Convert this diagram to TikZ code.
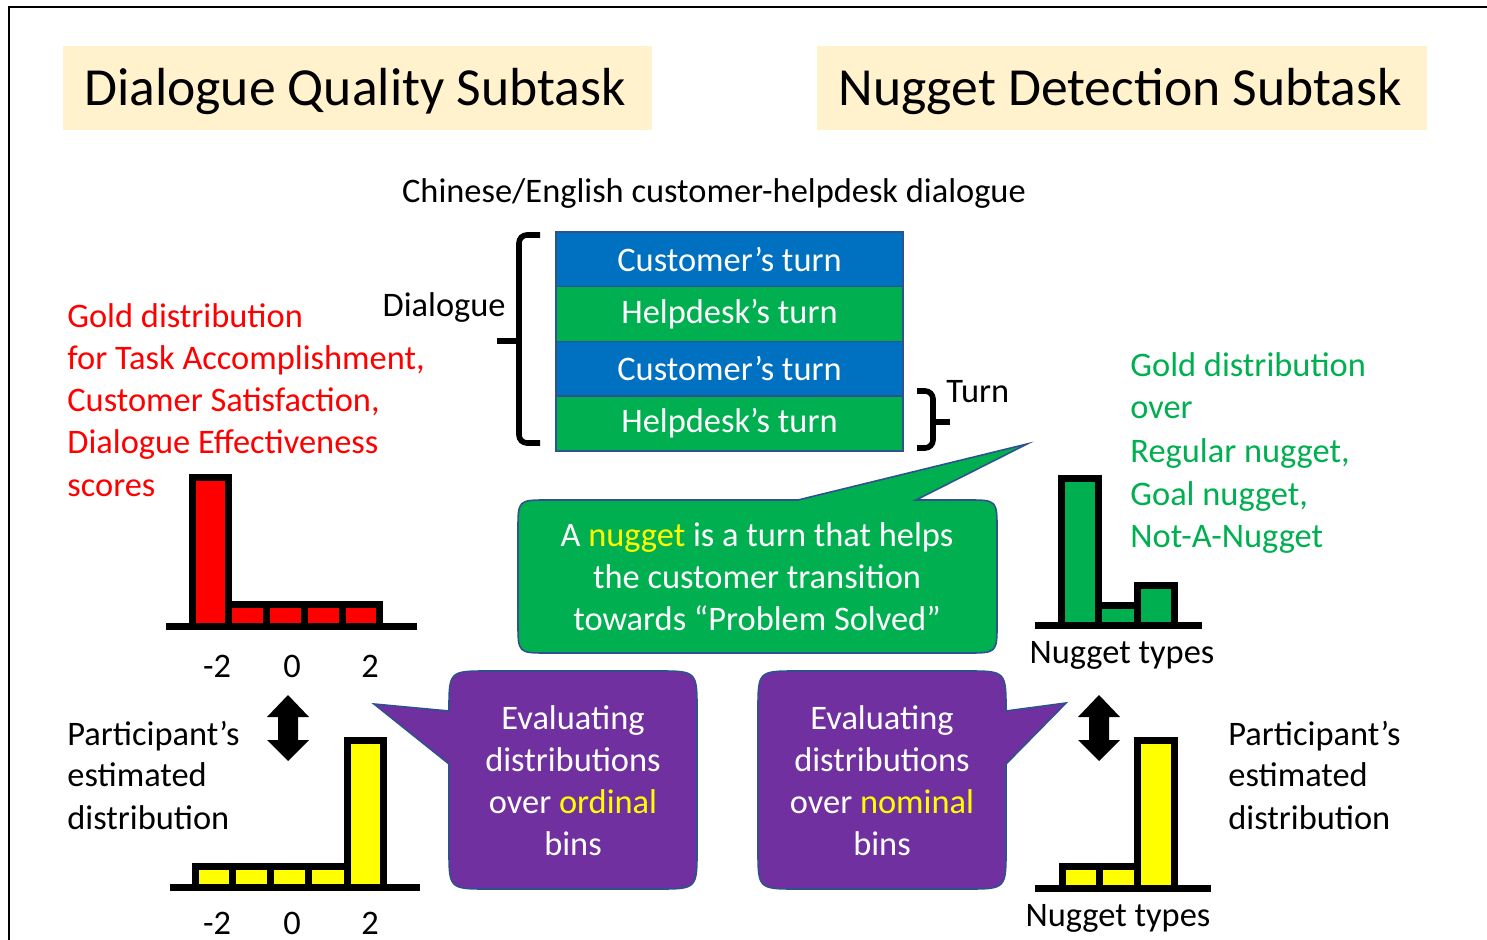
\documentclass[tikz,border=0pt]{standalone}
\usepackage{fontspec}
\setmainfont{Carlito}
\definecolor{cream}{HTML}{FFF2CC}
\definecolor{tblue}{HTML}{0070C0}
\definecolor{tgreen}{HTML}{00B050}
\definecolor{tpurple}{HTML}{7030A0}
\definecolor{edge}{HTML}{2F528F}
\definecolor{tyellow}{HTML}{FFFF00}
\definecolor{tred}{HTML}{FF0000}
\begin{document}
\begin{tikzpicture}[x=0.5pt,y=-0.5pt,
  body/.style={font=\fontsize{17.2}{21}\selectfont, inner sep=0pt},
  titletext/.style={font=\fontsize{26.8}{32}\selectfont, inner sep=0pt},
  titlefill/.style={fill=cream},
  turnbox/.style={draw=edge, line width=0.8pt, minimum width=173.5pt, minimum height=27.4pt, text=white, font=\fontsize{17.2}{21}\selectfont, inner sep=0pt},
  brace/.style={line width=2.8pt, rounded corners=4pt},
  bar/.style={draw=black, line width=3.5pt},
  axisline/.style={line width=3.5pt},
  callout/.style={draw=edge, line width=0.8pt},
  calltext/.style={font=\fontsize{17.2}{21}\selectfont, text=white, align=center, inner sep=0pt},
]
\useasboundingbox (0,0) rectangle (1487,940);
\fill[white] (0,0) rectangle (1487,940);
% frame
\draw[line width=1pt] (9,940) -- (9,7.5) -- (1487,7.5);

% titles
\fill[titlefill] (63,46) rectangle (652,130);
\fill[titlefill] (817,46) rectangle (1427,130);
\node[titletext, anchor=base] (t1) at (355,106) {Dialogue Quality Subtask};
\node[titletext, anchor=base] (t2) at (1120,106) {Nugget Detection Subtask};

\node[body, anchor=base] (cap) at (714,203) {Chinese/English customer-helpdesk dialogue};

% turns
\node[turnbox, fill=tblue]  (u1) at (729.5,259.4) {Customer’s turn};
\node[turnbox, fill=tgreen] (u2) at (729.5,314.1) {Helpdesk’s turn};
\node[turnbox, fill=tblue]  (u3) at (729.5,368.9) {Customer’s turn};
\node[turnbox, fill=tgreen] (u4) at (729.5,423.6) {Helpdesk’s turn};

% braces
\draw[brace] (540,235) -- (519,235) -- (519,443) -- (540,443);
\draw[line width=3pt] (519,341) -- (497,341);
\node[body, anchor=east] (dlg) at (506,308) {Dialogue};
\draw[brace] (917,391) -- (933,391) -- (933,448) -- (917,448);
\draw[line width=3pt] (933,422) -- (950,422);
\node[body, anchor=west] (turn) at (946,392) {Turn};

% red text
\node[body, text=tred, anchor=base west] (r1) at (67,328) {Gold distribution};
\node[body, text=tred, anchor=base west] (r2) at (67,370) {for Task Accomplishment,};
\node[body, text=tred, anchor=base west] (r3) at (67,412) {Customer Satisfaction,};
\node[body, text=tred, anchor=base west] (r4) at (67,454) {Dialogue Effectiveness};
\node[body, text=tred, anchor=base west] (r5) at (67,496) {scores};

% green text
\node[body, text=tgreen, anchor=base west] (g1) at (1130,377) {Gold distribution};
\node[body, text=tgreen, anchor=base west] (g2) at (1130,419) {over};
\node[body, text=tgreen, anchor=base west] (g3) at (1130,463) {Regular nugget,};
\node[body, text=tgreen, anchor=base west] (g4) at (1130,505) {Goal nugget,};
\node[body, text=tgreen, anchor=base west] (g5) at (1130,547) {Not-A-Nugget};

% participant text
\node[body, anchor=base west] (p1) at (67,745) {Participant’s};
\node[body, anchor=base west] (p2) at (67,786) {estimated};
\node[body, anchor=base west] (p3) at (67,829) {distribution};
\node[body, anchor=base west] (q1) at (1228,745) {Participant’s};
\node[body, anchor=base west] (q2) at (1228,786) {estimated};
\node[body, anchor=base west] (q3) at (1228,829) {distribution};

% red histogram
\draw[bar, fill=tred] (192.5,626) rectangle (228.5,477.5);
\draw[bar, fill=tred] (228.5,626) rectangle (266,604.5);
\draw[bar, fill=tred] (266,626) rectangle (304,604.5);
\draw[bar, fill=tred] (304,626) rectangle (342,604.5);
\draw[bar, fill=tred] (342,626) rectangle (379.5,604.5);
\draw[axisline] (166,626) -- (417,626);
\node[body] (a1) at (217,666) {-2};
\node[body] (a2) at (292,666) {0};
\node[body] (a3) at (370,666) {2};

% yellow histogram left
\draw[bar, fill=tyellow] (195.5,887) rectangle (232,866.5);
\draw[bar, fill=tyellow] (232,887) rectangle (270,866.5);
\draw[bar, fill=tyellow] (270,887) rectangle (308,866.5);
\draw[bar, fill=tyellow] (308,887) rectangle (347,866.5);
\draw[bar, fill=tyellow] (347,887) rectangle (383.5,740.5);
\draw[axisline] (170,887) -- (420,887);
\node[body] (b1) at (217,923) {-2};
\node[body] (b2) at (292,923) {0};
\node[body] (b3) at (370,923) {2};

% green histogram
\draw[bar, fill=tgreen] (1061.5,625.5) rectangle (1098,478.5);
\draw[bar, fill=tgreen] (1098,625.5) rectangle (1137,605.5);
\draw[bar, fill=tgreen] (1137,625.5) rectangle (1174.5,585.5);
\draw[axisline] (1035,625.5) -- (1202,625.5);
\node[body] (n1) at (1122,655) {Nugget types};

% yellow histogram right
\draw[bar, fill=tyellow] (1062.5,888) rectangle (1099,866.5);
\draw[bar, fill=tyellow] (1099,888) rectangle (1137,866.5);
\draw[bar, fill=tyellow] (1137,888) rectangle (1174.5,740.5);
\draw[axisline] (1035,888) -- (1211,888);
\node[body] (n2) at (1118,918) {Nugget types};

% double arrows
\fill (288,695) -- (309,717) -- (298,717) -- (298,740) -- (309,740) -- (288,761) -- (267,740) -- (278,740) -- (278,717) -- (267,717) -- cycle;
\fill (1099,695) -- (1120,717) -- (1109,717) -- (1109,740) -- (1120,740) -- (1099,761) -- (1078,740) -- (1089,740) -- (1089,717) -- (1078,717) -- cycle;

% green callout
\path[callout, fill=tgreen] (548,500) -- (798,500) -- (1027,444) -- (916,500) -- (967,500) .. controls (997,500) .. (997,530) -- (997,623) .. controls (997,653) .. (967,653) -- (548,653) .. controls (518,653) .. (518,623) -- (518,530) .. controls (518,500) .. (548,500) -- cycle;
\node[calltext] (nug) at (757,577) {A \textcolor{tyellow}{nugget} is a turn that helps\\the customer transition\\towards “Problem Solved”};

% purple callouts
\path[callout, fill=tpurple] (489,671) -- (657,671) .. controls (697,671) .. (697,711) -- (697,849) .. controls (697,889) .. (657,889) -- (489,889) .. controls (449,889) .. (449,849) -- (449,764) -- (374,704) -- (449,711) .. controls (449,671) .. (489,671) -- cycle;
\node[calltext] (ord) at (573,781) {Evaluating\\distributions\\over \textcolor{tyellow}{ordinal}\\bins};
\path[callout, fill=tpurple] (798,671) -- (966,671) .. controls (1006,671) .. (1006,711) -- (1066,703) -- (1006,764) -- (1006,849) .. controls (1006,889) .. (966,889) -- (798,889) .. controls (758,889) .. (758,849) -- (758,711) .. controls (758,671) .. (798,671) -- cycle;
\node[calltext] (nom) at (882,781) {Evaluating\\distributions\\over \textcolor{tyellow}{nominal}\\bins};
\end{tikzpicture}
\end{document}
